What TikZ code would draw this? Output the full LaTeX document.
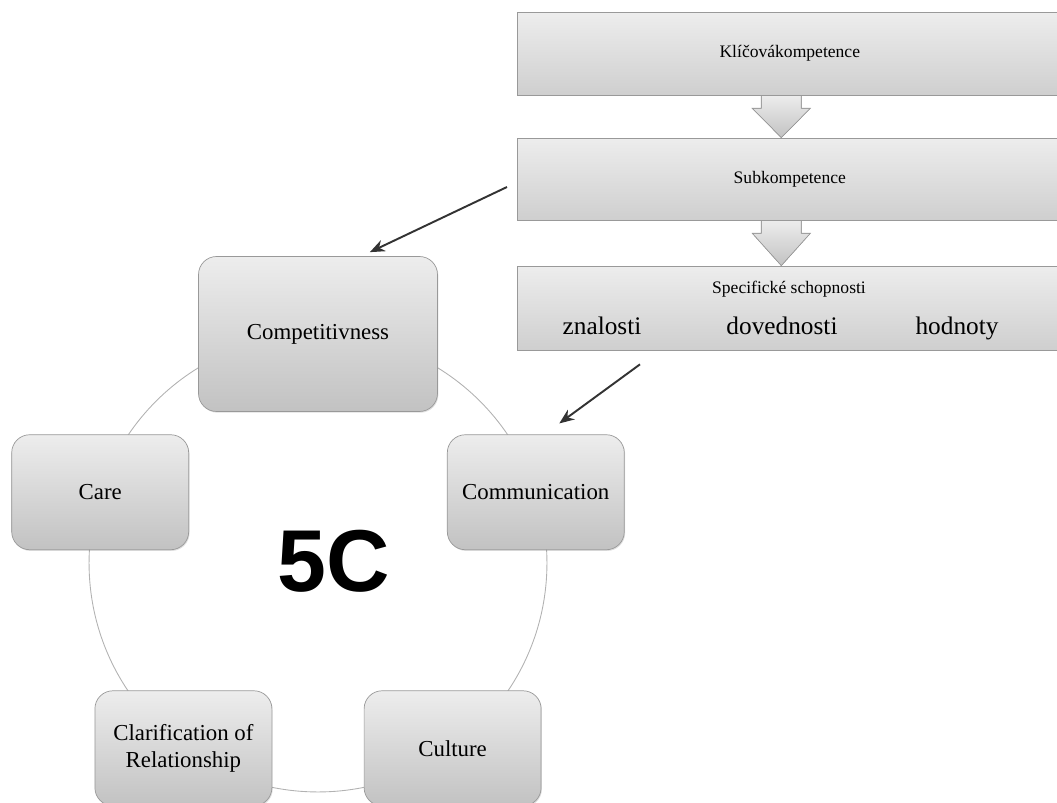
\documentclass[tikz,border=0pt]{standalone}
\usepackage{fontspec}
\setmainfont{Liberation Serif}
\newfontfamily\fivecfont{Liberation Sans}
\usetikzlibrary{arrows.meta,calc,positioning,shadows,backgrounds}
\definecolor{boxtop}{HTML}{EDEDED}
\definecolor{boxbot}{HTML}{C2C2C2}
\definecolor{boxline}{HTML}{999999}
\tikzset{cbox/.style={draw=boxline,rounded corners=0.36cm,top color=boxtop,bottom color=boxbot,align=center,
    minimum width=3.54cm,minimum height=2.3cm,font=\fontsize{13}{15.5}\selectfont,
    drop shadow={opacity=0.25,shadow xshift=0.5pt,shadow yshift=-0.7pt}},
  bigbox/.style={cbox,minimum width=4.78cm,minimum height=3.1cm},
  lvl/.style={draw=boxline,top color=boxtop,bottom color=boxbot!70!boxtop,minimum width=10.9cm,
    font=\fontsize{10}{12}\selectfont,anchor=west,drop shadow={opacity=0.35,shadow xshift=0pt,shadow yshift=-0.6pt}},
  blk/.style={draw=boxline,top color=boxtop,bottom color=boxbot},
  word/.style={anchor=base,font=\fontsize{14.4}{16}\selectfont},
  ring/.style={draw=gray!60,line width=0.5pt},
  arr/.style={-{Stealth[length=3mm,width=2.4mm]},line width=1.1pt,draw=black!80}}

\begin{document}
\begin{tikzpicture}[x=0.02cm,y=-0.02cm]
\useasboundingbox (0,0) rectangle (1057,803);
% levels of competence
\node[lvl,minimum height=1.66cm] (klic) at (517,53.5) {Klíčovákompetence};
\node[lvl,minimum height=1.64cm] (sub) at (517,179) {Subkompetence};
\node[lvl,minimum height=1.68cm] (spec) at (517,308) {};
\node[anchor=base,font=\fontsize{10}{12}\selectfont] (spectxt) at (789,294) {Specifické schopnosti};
\node[word] (zn) at (602,335) {znalosti};
\node[word] (dov) at (782,335) {dovednosti};
\node[word] (hod) at (957,335) {hodnoty};
\begin{scope}[on background layer]
\foreach \a/\b in {klic/sub,sub/spec}
  \filldraw[blk] ($(\a.south)+(-28.5,0)$) -- ++(0,13) -- ++(-9,0) -- ($(\b.north)+(-8.5,0)$)
    -- ($(\a.south)+(20.5,13)$) -- ++(-9,0) -- ($(\a.south)+(11.5,0)$) -- cycle;
\end{scope}

% the 5C ring
\coordinate (c) at (318,563);
\node[bigbox] (comp) at ($(c)+(-90:229)$) {Competitivness};
\foreach \n/\a/\t in {comm/-18/Communication,cult/54/Culture,clar/126/{Clarification of\\Relationship},care/198/Care}
  \node[cbox] (\n) at ($(c)+(\a:229)$) {\t};
\begin{scope}[on background layer]
\draw[ring] (c) circle (4.58cm);
\end{scope}
\node[font=\fivecfont\bfseries\fontsize{50}{50}\selectfont] (five) at (334,561) {5C};

\draw[arr] ($(sub.west)+(-10,8)$) -- ($(comp.north east)+(-68,-4)$);
\draw[arr] ($(spec.south west)+(123,14)$) -- ($(comm.north)+(23.5,-11)$);
\end{tikzpicture}
\end{document}
